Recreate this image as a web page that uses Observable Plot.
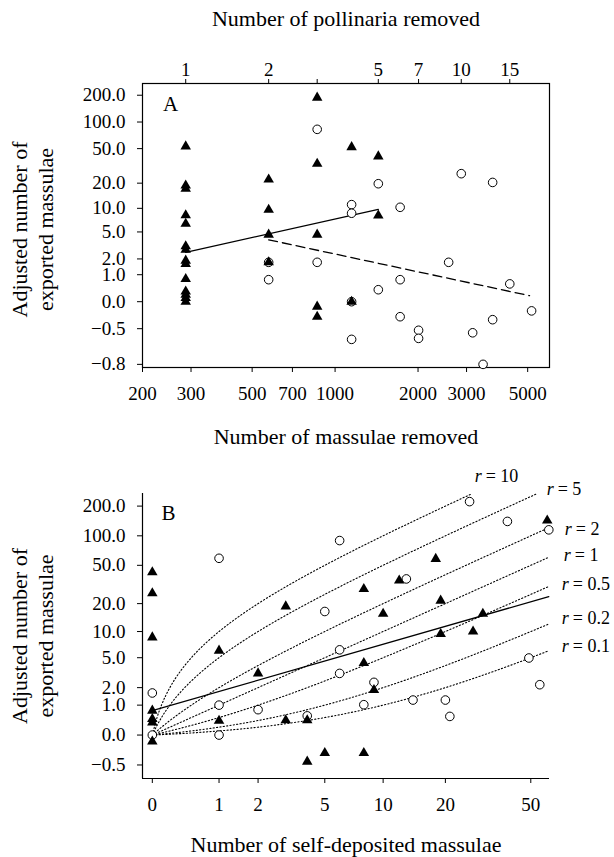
<!DOCTYPE html>
<html><head><meta charset="utf-8">
<script src="https://cdn.jsdelivr.net/npm/d3@7"></script>
<script src="https://cdn.jsdelivr.net/npm/@observablehq/plot@0.6"></script>
<style>
body{margin:0;background:#fff;}
#chart svg{display:block;}
</style></head><body><div id="chart"></div>
<script>
// ---------- Panel A data ----------
const massPerPollinarium = 287;
const pollinariaTicks = [1, 2, 3, 5, 7, 10, 15];
const massulaeTicks = [200, 300, 500, 700, 1000, 2000, 3000, 5000];
const exportTicksA = [200, 100, 50, 20, 10, 5, 2, 1, 0, -0.5, -0.8];

const aTriX = [287,287,287,287,287,287,287,287,287,287,287,287,287,287, 574,574,574,574, 861,861,861,861,861, 1148,1148, 1435,1435];
const aTriY = [53,18.8,17.2,8.2,6.4,3.15,2.8,1.87,1.64,0.79,0.3,0.2,0.1,0, 22.1,9.6,4.6,1.75, 188,33.6,4.6,-0.12,-0.32, 52,0, 40.8,8.15];

const aCircX = [574,574, 861,861, 1148,1148,1148,1148, 1435,1435, 1722,1722,1722, 2009,2009, 2583, 2870, 3157, 3444, 3731,3731, 4305, 5166];
const aCircY = [1.75,0.76, 82.7,1.75, 11.1,8.7,0,-0.62, 19.7,0.36, 10.3,0.76,-0.32, -0.52,-0.61, 1.75, 25.8, -0.55, -0.8, 20.4,-0.37, 0.58, -0.21];

const aSolidX = [287, 1435];
const aSolidY = [2.56, 9.7];
const aDashX = [574, 5078];
const aDashY = [3.9, 0.167];

// ---------- Panel B data ----------
const selfTicks = [0, 1, 2, 5, 10, 20, 50];
const exportTicksB = [200, 100, 50, 20, 10, 5, 2, 1, 0, -0.5];

const bTriX = [0,0,0,0,0,0,0, 1,1, 2, 3,3, 4,4, 5, 8,8,8, 9, 10, 12, 18, 19,19, 27, 30, 59.5];
const bTriY = [42.4,25.7,8.6,0.76,0.45,0.34,-0.14, 6.06,0.39, 3.17, 18.7,0.41, 0.41,-0.46, -0.34, 28.5,4.31,-0.34, 1.84, 15.6, 34.8, 58.2, 21.5,9.4, 10.0, 15.6, 143];

const bCircX = [0,0, 1,1,1, 2, 4, 5, 6,6,6, 8, 9, 13, 14, 20, 21, 26, 39, 49, 55, 60.5];
const bCircY = [1.65,0, 59,1.0,0, 0.8, 0.56, 16.5, 89.5,6.2,3.17, 1.02, 2.39, 36.2, 1.25, 1.25, 0.54, 222, 140, 4.96, 2.21, 115];

const bSolidX = [0, 60.5];
const bSolidY = [0.76, 23.7];

// reference curves (exported vs self-deposited)
const rValues = ["10", "5", "2", "1", "0.5", "0.2", "0.1"];
const curveX = [0, 0.05, 0.1, 0.2, 0.35, 0.5, 0.75, 1, 1.5, 2, 3, 4, 6, 8, 11, 15, 20, 26.6, 35, 45, 53.2, 60.5];
const curveY10  = [0, 0.5, 1, 2, 3.5, 5, 7.5, 10, 15, 20, 30, 40, 60, 80, 110, 150, 200, 266];
const curveY5   = [0, 0.25, 0.5, 1, 1.75, 2.5, 3.75, 5, 7.5, 10, 15, 20, 30, 40, 55, 75, 100, 133, 175, 225, 266];
const curveY2   = [0, 0.1, 0.2, 0.4, 0.7, 1, 1.5, 2, 3, 4, 6, 8, 12, 16, 22, 30, 40, 53.2, 70, 90, 106.4, 121];
const curveY1   = [0, 0.05, 0.1, 0.2, 0.35, 0.5, 0.75, 1, 1.5, 2, 3, 4, 6, 8, 11, 15, 20, 26.6, 35, 45, 53.2, 60.5];
const curveY05  = [0, 0.025, 0.05, 0.1, 0.175, 0.25, 0.375, 0.5, 0.75, 1, 1.5, 2, 3, 4, 5.5, 7.5, 10, 13.3, 17.5, 22.5, 26.6, 30.25];
const curveY02  = [0, 0.01, 0.02, 0.04, 0.07, 0.1, 0.15, 0.2, 0.3, 0.4, 0.6, 0.8, 1.2, 1.6, 2.2, 3, 4, 5.32, 7, 9, 10.64, 12.1];
const curveY01  = [0, 0.005, 0.01, 0.02, 0.035, 0.05, 0.075, 0.1, 0.15, 0.2, 0.3, 0.4, 0.6, 0.8, 1.1, 1.5, 2, 2.66, 3.5, 4.5, 5.32, 6.05];
const curveYs = [curveY10, curveY5, curveY2, curveY1, curveY05, curveY02, curveY01];

// ---------- helpers ----------
const FONT = "'Liberation Serif', 'Times New Roman', serif";
const L = v => Math.log10(v + 1);          // axis transform log(v+1)
const fmt1 = v => (v < 0 ? "\u2212" : "") + Math.abs(v).toFixed(1);
const labelFor = (ticks, f) => t => {
  const v = ticks.find(v => Math.abs(L(v) - t) < 1e-9);
  return v === undefined ? "" : f(v);
};
const zip = (xs, ys) => xs.map((x, i) => ({x, y: ys[i]}));
const style = {fontFamily: FONT, fontSize: "19px", color: "#000", background: "#fff", overflow: "visible"};
const yLabel = "Adjusted number of\nexported massulae";

// ---------- Panel A ----------
const yDomA = [-0.734, 2.434];
const plotA = Plot.plot({
  width: 614, height: 455,
  marginLeft: 142, marginRight: 65, marginTop: 83, marginBottom: 88,
  style,
  x: {type: "log", domain: [200, 6000]},
  y: {domain: yDomA},
  marks: [
    Plot.frame({stroke: "#000", strokeWidth: 1.2}),
    Plot.axisX({anchor: "bottom", ticks: massulaeTicks, tickFormat: d => String(d), tickSize: 5, tickPadding: 14, label: null}),
    Plot.axisX({anchor: "top", ticks: pollinariaTicks.map(p => p * massPerPollinarium),
      tickFormat: d => String(Math.round(d / massPerPollinarium)), tickSize: 5, tickPadding: 3, label: null}),
    Plot.axisY({anchor: "left", ticks: exportTicksA.map(L), tickFormat: labelFor(exportTicksA, fmt1), tickSize: 5, tickPadding: 12, label: null}),
    Plot.line(zip(aSolidX, aSolidY), {x: "x", y: d => L(d.y), stroke: "#000", strokeWidth: 1.3}),
    Plot.line(zip(aDashX, aDashY), {x: "x", y: d => L(d.y), stroke: "#000", strokeWidth: 1.3, strokeDasharray: "9,5"}),
    Plot.dot(zip(aCircX, aCircY), {x: "x", y: d => L(d.y), symbol: "circle", r: 4.3, fill: "#fff", stroke: "#000", strokeWidth: 1}),
    Plot.dot(zip(aTriX, aTriY), {x: "x", y: d => L(d.y), symbol: "triangle", r: 3.9, fill: "#000", stroke: "none"}),
    Plot.text(["A"], {frameAnchor: "top-left", dx: 28, dy: 21, textAnchor: "middle", lineAnchor: "middle", fontSize: 21}),
    Plot.text(["Number of pollinaria removed"], {frameAnchor: "top", dy: -65, lineAnchor: "middle", fontSize: 22}),
    Plot.text(["Number of massulae removed"], {frameAnchor: "bottom", dy: 69, lineAnchor: "middle", fontSize: 22}),
    Plot.text([yLabel], {frameAnchor: "left", dx: -111, dy: 4, rotate: -90, lineAnchor: "middle", textAnchor: "middle", fontSize: 22, lineHeight: 1.18})
  ]
});

// ---------- Panel B ----------
const xDomB = [-0.0443, 1.792];
const yDomB = [-0.437, 2.43];
const curvePts = [];
curveYs.forEach((ys, k) => ys.forEach((y, i) => curvePts.push({r: rValues[k], x: curveX[i], y})));
const ends = curveYs.map((ys, k) => ({r: rValues[k], x: curveX[ys.length - 1], y: ys[ys.length - 1]}));
const labelOffsets = {"10": [3, -18], "5": [10, -5], "2": [16, 2], "1": [15, -2], "0.5": [13, -2], "0.2": [13, -6], "0.1": [13, -5]};
const rLabelMarks = [];
ends.forEach(e => {
  const [dx, dy] = labelOffsets[e.r];
  rLabelMarks.push(Plot.text([e], {x: d => L(d.x), y: d => L(d.y), text: () => "r", dx, dy, textAnchor: "start", lineAnchor: "middle", fontStyle: "italic", fontSize: 18}));
  rLabelMarks.push(Plot.text([e], {x: d => L(d.x), y: d => L(d.y), text: d => "= " + d.r, dx: dx + 11, dy, textAnchor: "start", lineAnchor: "middle", fontSize: 18}));
});

const plotB = Plot.plot({
  width: 614, height: 402,
  marginLeft: 142, marginRight: 65, marginTop: 38, marginBottom: 79,
  style,
  x: {domain: xDomB},
  y: {domain: yDomB},
  marks: [
    Plot.ruleX([xDomB[0]], {stroke: "#000", strokeWidth: 1.2}),
    Plot.ruleY([yDomB[0]], {stroke: "#000", strokeWidth: 1.2}),
    Plot.axisX({anchor: "bottom", ticks: selfTicks.map(L), tickFormat: labelFor(selfTicks, d => String(d)), tickSize: 5, tickPadding: 14, label: null}),
    Plot.axisY({anchor: "left", ticks: exportTicksB.map(L), tickFormat: labelFor(exportTicksB, fmt1), tickSize: 5, tickPadding: 12, label: null}),
    Plot.line(curvePts, {x: d => L(d.x), y: d => L(d.y), z: "r", curve: "monotone-x", stroke: "#000", strokeWidth: 1.1, strokeDasharray: "1.2,2.2"}),
    Plot.line(zip(bSolidX, bSolidY), {x: d => L(d.x), y: d => L(d.y), stroke: "#000", strokeWidth: 1.3}),
    Plot.dot(zip(bCircX, bCircY), {x: d => L(d.x), y: d => L(d.y), symbol: "circle", r: 4.3, fill: "#fff", stroke: "#000", strokeWidth: 1}),
    Plot.dot(zip(bTriX, bTriY), {x: d => L(d.x), y: d => L(d.y), symbol: "triangle", r: 3.9, fill: "#000", stroke: "none"}),
    ...rLabelMarks,
    Plot.text(["B"], {frameAnchor: "top-left", dx: 26, dy: 20, textAnchor: "middle", lineAnchor: "middle", fontSize: 21}),
    Plot.text(["Number of self-deposited massulae"], {frameAnchor: "bottom", dy: 66, lineAnchor: "middle", fontSize: 22}),
    Plot.text([yLabel], {frameAnchor: "left", dx: -111, dy: 0, rotate: -90, lineAnchor: "middle", textAnchor: "middle", fontSize: 22, lineHeight: 1.18})
  ]
});

const chart = document.getElementById("chart");
chart.appendChild(plotA);
chart.appendChild(plotB);
</script></body></html>
